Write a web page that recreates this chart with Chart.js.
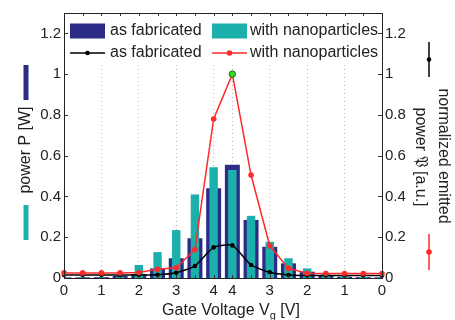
<!DOCTYPE html>
<html>
<head>
<meta charset="utf-8">
<script src="https://cdn.jsdelivr.net/npm/chart.js@4.4.1/dist/chart.umd.min.js"></script>
<style>
  html, body { margin: 0; padding: 0; background: #fff; }
</style>
</head>
<body>
<canvas id="chart" width="455" height="320"></canvas>
<script>
// Gate voltage sweep: up 0 -> 4 V, then back down 4 -> 0 V
const gateVoltage = [0, 0.5, 1, 1.5, 2, 2.5, 3, 3.5, 4, 4, 3.5, 3, 2.5, 2, 1.5, 1, 0.5, 0];
const xTickLabels = gateVoltage.map(v => Number.isInteger(v) ? String(v) : '');

// power P [W] (bars)
const powerFabricated = [0.003, 0.003, 0.004, 0.01, 0.02, 0.047, 0.097, 0.195, 0.44, 0.555, 0.285, 0.153, 0.072, 0.031, 0.013, 0.006, 0.004, 0.003];
const powerNano = [0.002, 0.002, 0.003, 0.005, 0.064, 0.127, 0.235, 0.41, 0.543, 0.53, 0.305, 0.178, 0.097, 0.047, 0.02, 0.008, 0.005, 0.003];

// normalized emitted power [a.u.] (lines)
const normFabricated = [0.015, 0.015, 0.015, 0.015, 0.015, 0.016, 0.026, 0.059, 0.15, 0.16, 0.064, 0.028, 0.015, 0.012, 0.012, 0.012, 0.012, 0.012];
const normNano = [0.025, 0.025, 0.025, 0.025, 0.027, 0.043, 0.05, 0.14, 0.78, 1.0, 0.505, 0.158, 0.047, 0.023, 0.022, 0.022, 0.022, 0.022];

const yTicks = [0, 0.2, 0.4, 0.6, 0.8, 1, 1.2];
const yTickLabels = ['0', '0.2', '0.4', '0.6', '0.8', '1', '1.2'];

const NAVY = '#2c2c86';
const TEAL = '#1cb0ad';
const RED = '#ff2a2a';
const GREEN = '#33dd22';
const FONT = '"Liberation Sans", Arial, Helvetica, sans-serif';
const peakIdx = normNano.indexOf(Math.max(...normNano));

Chart.defaults.font.family = FONT;
Chart.defaults.color = '#222';

// frame, inner ticks, in-plot legend and axis titles (MATLAB look)
const decor = {
  id: 'decor',
  afterDatasetsDraw(chart) {
    const { ctx, chartArea: a, scales } = chart;
    const ds = chart.data.datasets;
    ctx.save();

    // legend
    ctx.fillStyle = '#fff';
    ctx.fillRect(a.left + 1, a.top + 1, a.right - a.left - 2, 62 - a.top);
    ctx.font = '16px ' + FONT;
    ctx.textBaseline = 'middle';
    ctx.textAlign = 'left';
    const col = [a.left + 6, a.left + 148];
    const row = [31, 53];
    const box = (x, y, c) => { ctx.fillStyle = c; ctx.fillRect(x, y - 7.5, 35, 15); };
    const line = (x, y, c, r) => {
      ctx.strokeStyle = c; ctx.lineWidth = 1.5;
      ctx.beginPath(); ctx.moveTo(x, y); ctx.lineTo(x + 35, y); ctx.stroke();
      ctx.fillStyle = c; ctx.beginPath(); ctx.arc(x + 17.5, y, r, 0, Math.PI * 2); ctx.fill();
    };
    box(col[0], row[0], NAVY);
    box(col[1], row[0], TEAL);
    line(col[0], row[1], '#000', 2.3);
    line(col[1], row[1], RED, 2.8);
    ctx.fillStyle = '#222';
    ctx.fillText(ds[2].label, col[0] + 40, row[0]);
    ctx.fillText(ds[3].label, col[1] + 38, row[0]);
    ctx.fillText(ds[0].label, col[0] + 40, row[1]);
    ctx.fillText(ds[1].label, col[1] + 38, row[1]);

    // inner ticks
    ctx.strokeStyle = '#333';
    ctx.lineWidth = 1;
    ctx.beginPath();
    yTicks.forEach(v => {
      const y = Math.round(scales.y.getPixelForValue(v)) + 0.5;
      ctx.moveTo(a.left, y); ctx.lineTo(a.left + 4, y);
      ctx.moveTo(a.right, y); ctx.lineTo(a.right - 4, y);
    });
    gateVoltage.forEach((v, i) => {
      const x = Math.round(scales.x.getPixelForValue(i)) + 0.5;
      ctx.moveTo(x, a.top); ctx.lineTo(x, a.top + 3);
      ctx.moveTo(x, a.bottom); ctx.lineTo(x, a.bottom - 3);
    });
    ctx.stroke();

    // frame
    ctx.strokeStyle = '#222';
    ctx.strokeRect(Math.round(a.left) + 0.5, Math.round(a.top) + 0.5,
      Math.round(a.right - a.left), Math.round(a.bottom - a.top));
    ctx.restore();
  },
  afterDraw(chart) {
    const { ctx } = chart;
    ctx.save();
    ctx.font = '16px ' + FONT;
    ctx.fillStyle = '#222';
    ctx.textBaseline = 'middle';
    ctx.textAlign = 'center';

    // left title with bar swatches
    ctx.save();
    ctx.translate(26, 150);
    ctx.rotate(-Math.PI / 2);
    ctx.fillText('power P [W]', 0, 0);
    ctx.restore();
    ctx.fillStyle = NAVY; ctx.fillRect(23.5, 65, 5, 35);
    ctx.fillStyle = TEAL; ctx.fillRect(23.5, 205, 5, 35);

    // right title with line swatches
    ctx.fillStyle = '#222';
    ctx.save();
    ctx.translate(443, 156);
    ctx.rotate(Math.PI / 2);
    ctx.fillText('normalized emitted', 0, 0);
    ctx.restore();
    ctx.save();
    ctx.translate(420, 157);
    ctx.rotate(Math.PI / 2);
    ctx.fillText('power \u{1D513} [a.u.]', 0, 0);
    ctx.restore();
    const vLine = (x, y1, y2, c, r) => {
      ctx.strokeStyle = c; ctx.lineWidth = 1.5;
      ctx.beginPath(); ctx.moveTo(x, y1); ctx.lineTo(x, y2); ctx.stroke();
      ctx.fillStyle = c; ctx.beginPath(); ctx.arc(x, (y1 + y2) / 2, r, 0, Math.PI * 2); ctx.fill();
    };
    vLine(429, 42, 77, '#000', 2.3);
    vLine(429, 234, 270, RED, 2.8);

    // x title with subscript
    ctx.fillStyle = '#222';
    ctx.textAlign = 'left';
    ctx.textBaseline = 'alphabetic';
    const t1 = 'Gate Voltage V', sub = 'g', t2 = ' [V]';
    ctx.font = '16px ' + FONT;
    const w1 = ctx.measureText(t1).width, w2 = ctx.measureText(t2).width;
    ctx.font = '11px ' + FONT;
    const ws = ctx.measureText(sub).width;
    const x = 231 - (w1 + ws + w2) / 2;
    ctx.font = '16px ' + FONT;
    ctx.fillText(t1, x, 315);
    ctx.font = '11px ' + FONT;
    ctx.fillText(sub, x + w1, 319);
    ctx.font = '16px ' + FONT;
    ctx.fillText(t2, x + w1 + ws, 315);
    ctx.restore();
  }
};

new Chart(document.getElementById('chart'), {
  data: {
    labels: gateVoltage.map(String),
    datasets: [
      {
        type: 'line', label: 'as fabricated', data: normFabricated, yAxisID: 'y2',
        borderColor: '#000', backgroundColor: '#000', borderWidth: 1.5,
        pointRadius: 2.3, pointBorderWidth: 0, tension: 0.2, order: 1
      },
      {
        type: 'line', label: 'with nanoparticles', data: normNano, yAxisID: 'y2',
        borderColor: RED, borderWidth: 1.5,
        pointRadius: c => c.dataIndex === peakIdx ? 3.2 : 2.8,
        pointBackgroundColor: c => c.dataIndex === peakIdx ? GREEN : RED,
        pointBorderColor: c => c.dataIndex === peakIdx ? '#226622' : RED,
        pointBorderWidth: c => c.dataIndex === peakIdx ? 1 : 0,
        tension: 0, order: 0
      },
      {
        type: 'bar', label: 'as fabricated', data: powerFabricated, yAxisID: 'y',
        backgroundColor: NAVY, borderWidth: 0,
        grouped: false, barPercentage: 0.8, categoryPercentage: 1, order: 3
      },
      {
        type: 'bar', label: 'with nanoparticles', data: powerNano, yAxisID: 'y',
        backgroundColor: TEAL, borderWidth: 0,
        grouped: false, barPercentage: 0.45, categoryPercentage: 1, order: 2
      }
    ]
  },
  options: {
    responsive: false,
    animation: false,
    layout: { padding: { top: 13, left: 0, right: 0, bottom: 0 } },
    plugins: { legend: { display: false }, tooltip: { enabled: false } },
    scales: {
      x: {
        type: 'category',
        offset: false,
        afterFit(s) { s.height = 42; },
        grid: {
          offset: false, drawTicks: false, lineWidth: 1,
          color: c => (xTickLabels[c.index] && c.index > 0 && c.index < gateVoltage.length - 1) ? '#b8b8b8' : 'rgba(0,0,0,0)'
        },
        border: { display: false, dash: [1, 3] },
        ticks: {
          autoSkip: false, maxRotation: 0, padding: 4,
          font: { size: 15 }, color: '#222',
          callback: (v, i) => xTickLabels[i]
        }
      },
      y: {
        position: 'left', min: 0, max: 1.3,
        afterFit(s) { s.width = 64; },
        afterBuildTicks(s) { s.ticks = yTicks.map(v => ({ value: v })); },
        grid: { display: false, drawTicks: false },
        border: { display: false },
        ticks: { padding: 3, font: { size: 15 }, color: '#222', callback: (v, i) => yTickLabels[i] }
      },
      y2: {
        position: 'right', min: 0, max: 1.3,
        afterFit(s) { s.width = 73; },
        afterBuildTicks(s) { s.ticks = yTicks.map(v => ({ value: v })); },
        grid: { display: false, drawTicks: false },
        border: { display: false },
        ticks: { padding: 3, font: { size: 15 }, color: '#222', callback: (v, i) => yTickLabels[i] }
      }
    }
  },
  plugins: [decor]
});
</script>
</body>
</html>
